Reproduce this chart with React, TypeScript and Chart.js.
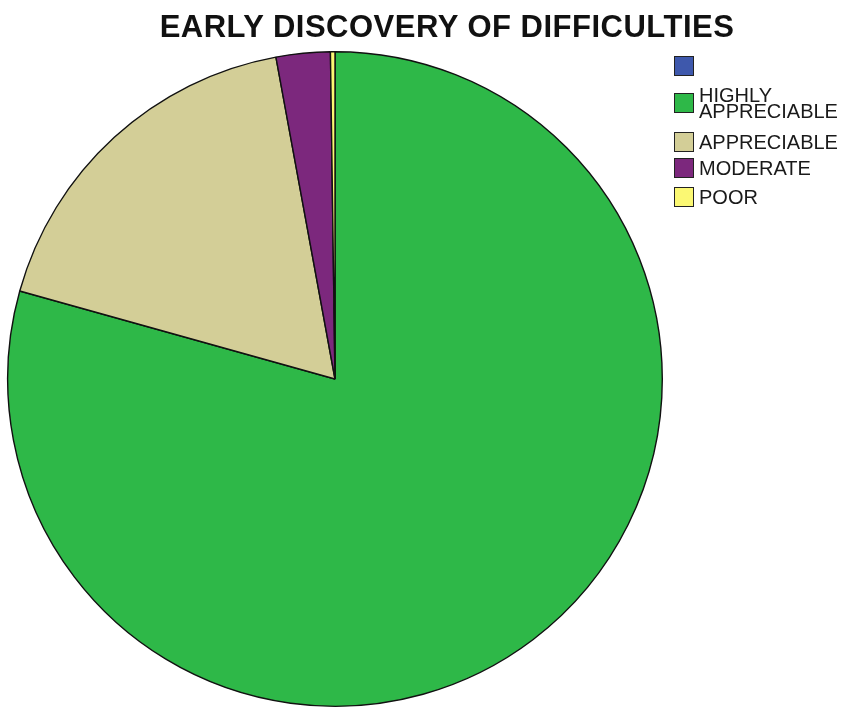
import React, { useEffect, useRef } from "react";
import { Chart, registerables } from "chart.js";

Chart.register(...registerables);

const TITLE = "EARLY DISCOVERY OF DIFFICULTIES";
const categories = ["", "HIGHLY APPRECIABLE", "APPRECIABLE", "MODERATE", "POOR"];
const counts = [0, 357, 80, 12, 1];
const colors = ["#3E58AC", "#2EB848", "#D3CE97", "#7C287D", "#FBF873"];

// layout only (legend row tops, px)
const legendRowTops = [56, 93, 132, 158, 187];

const FONT = '"Liberation Sans", Arial, Helvetica, sans-serif';

export default function App() {
  const ref = useRef<HTMLCanvasElement | null>(null);

  useEffect(() => {
    if (!ref.current) return;
    const chart = new Chart(ref.current, {
      type: "pie",
      data: {
        labels: categories,
        datasets: [
          {
            data: counts,
            backgroundColor: colors,
            borderColor: "#111",
            borderWidth: 1.4,
          },
        ],
      },
      options: {
        responsive: false,
        animation: false,
        events: [],
        devicePixelRatio: 1,
        layout: { padding: { left: 7, right: 178, top: 51, bottom: 13 } },
        plugins: {
          legend: { display: false },
          title: { display: false },
          tooltip: { enabled: false },
        },
      },
    });
    return () => chart.destroy();
  }, []);

  return (
    <div
      style={{
        position: "absolute",
        left: 0,
        top: 0,
        width: 841,
        height: 708,
        overflow: "hidden",
        background: "#fff",
        fontFamily: FONT,
      }}
    >
      <canvas
        ref={ref}
        width={841}
        height={720}
        style={{ position: "absolute", left: 0, top: 0, width: 841, height: 720 }}
      />
      <div
        style={{
          position: "absolute",
          left: 447,
          top: 11,
          transform: "translateX(-50%)",
          whiteSpace: "nowrap",
          fontWeight: "bold",
          fontSize: 31,
          lineHeight: "31px",
          letterSpacing: "0.5px",
          color: "#111",
        }}
      >
        {TITLE}
      </div>
      {categories.map((c, i) => (
        <div
          key={i}
          style={{
            position: "absolute",
            left: 674,
            top: legendRowTops[i],
            display: "flex",
            alignItems: "center",
            height: 20,
          }}
        >
          <div
            style={{
              width: 20,
              height: 20,
              boxSizing: "border-box",
              border: "1.5px solid #222",
              background: colors[i],
              flex: "0 0 auto",
            }}
          />
          <div
            style={{
              marginLeft: 5,
              width: 142,
              fontSize: 20,
              lineHeight: c.indexOf(" ") >= 0 ? "16px" : "20px",
              color: "#1a1a1a",
            }}
          >
            {c}
          </div>
        </div>
      ))}
    </div>
  );
}
